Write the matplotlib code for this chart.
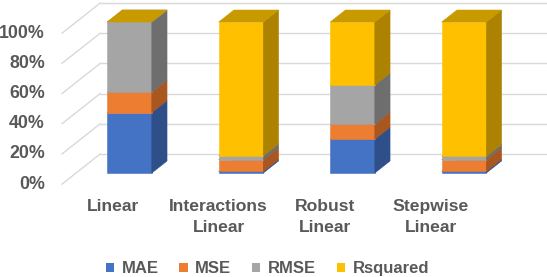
import matplotlib.pyplot as plt
from matplotlib.patches import Polygon, Patch
import numpy as np

# values (percent of each bar)
categories = ["Linear", "Interactions\nLinear", "Robust\nLinear", "Stepwise\nLinear"]
series_names = ["MAE", "MSE", "RMSE", "Rsquared"]
mae = [40.0, 1.0, 22.4, 1.0]
mse = [13.4, 7.8, 9.9, 7.8]
rmse = [46.6, 2.6, 25.9, 2.2]
rsquared = [0.0, 88.6, 41.8, 89.0]
yticks = [0, 20, 40, 60, 80, 100]

front_colors = ["#4472C4", "#ED7D31", "#A5A5A5", "#FFC000"]
side_colors = ["#2F4F8A", "#A9561F", "#6E6E6E", "#AC8200"]
top_colors = ["#3A62A8", "#C8682A", "#8A8A8A", "#C99A00"]
text_color = "#595959"
grid_color = "#D9D9D9"

plt.rcParams["font.family"] = ["Liberation Sans", "DejaVu Sans"]

# oblique depth vectors (data units: category spacing / percent)
depth = np.array([0.341, 19.9])
bar_depth = 0.4 * depth
to_front = -0.37 * depth
to_back = 0.63 * depth
wall_x = -0.605 - to_front[0]
bar_width = 0.40

fig = plt.figure(figsize=(5.47, 2.77), dpi=100)
ax = fig.add_axes([0, 0, 1, 1])
ax.set_xlim(-1.1614, 3.744)
ax.set_ylim(-68.9, 114.6)
ax.axis("off")

# left wall + back wall gridlines
for p in yticks:
    fx, fy = wall_x + to_front[0], p + to_front[1]
    bx, by = wall_x + to_back[0], p + to_back[1]
    ax.plot([fx, bx], [fy, by], color=grid_color, lw=1.0, zorder=0)
    ax.plot([bx, 3.744], [by, by], color=grid_color, lw=1.0, zorder=0)
    ax.text(fx - 0.155, fy, "{}%".format(p), ha="right", va="center",
            fontsize=12.8, fontweight="bold", color=text_color)

data = np.array([mae, mse, rmse, rsquared])
data = data / data.sum(axis=0) * 100
bottoms = np.vstack([np.zeros(len(categories)), np.cumsum(data, axis=0)[:-1]])

for i in range(len(categories)):
    x0 = i - bar_width / 2
    x1 = i + bar_width / 2
    dx, dy = bar_depth
    for s in range(len(series_names)):
        y0 = bottoms[s, i]
        y1 = y0 + data[s, i]
        if y1 > y0:
            ax.add_patch(Polygon([(x0, y0), (x1, y0), (x1, y1), (x0, y1)],
                                 closed=True, facecolor=front_colors[s],
                                 edgecolor=front_colors[s], lw=0.4, zorder=2))
            ax.add_patch(Polygon([(x1, y0), (x1 + dx, y0 + dy), (x1 + dx, y1 + dy), (x1, y1)],
                                 closed=True, facecolor=side_colors[s],
                                 edgecolor=side_colors[s], lw=0.4, zorder=2))
        ax.add_patch(Polygon([(x0, y1), (x1, y1), (x1 + dx, y1 + dy), (x0 + dx, y1 + dy)],
                             closed=True, facecolor=top_colors[s],
                             edgecolor=top_colors[s], lw=0.4, zorder=2))

# category labels sit on the front plane
for i, cat in enumerate(categories):
    ax.text(0.95 * i - 0.15, -17.5, cat, ha="center", va="top", fontsize=12.6,
            fontweight="bold", color=text_color, linespacing=1.45)

handles = [Patch(facecolor=c, edgecolor="none") for c in front_colors]
leg = fig.legend(handles, series_names, loc="center", bbox_to_anchor=(0.489, 0.03),
                 ncol=4, frameon=False, handlelength=0.5, handleheight=0.5,
                 handletextpad=0.45, columnspacing=1.25,
                 prop={"size": 12, "weight": "bold"})
for t in leg.get_texts():
    t.set_color(text_color)

fig.savefig("out.png", dpi=100)
